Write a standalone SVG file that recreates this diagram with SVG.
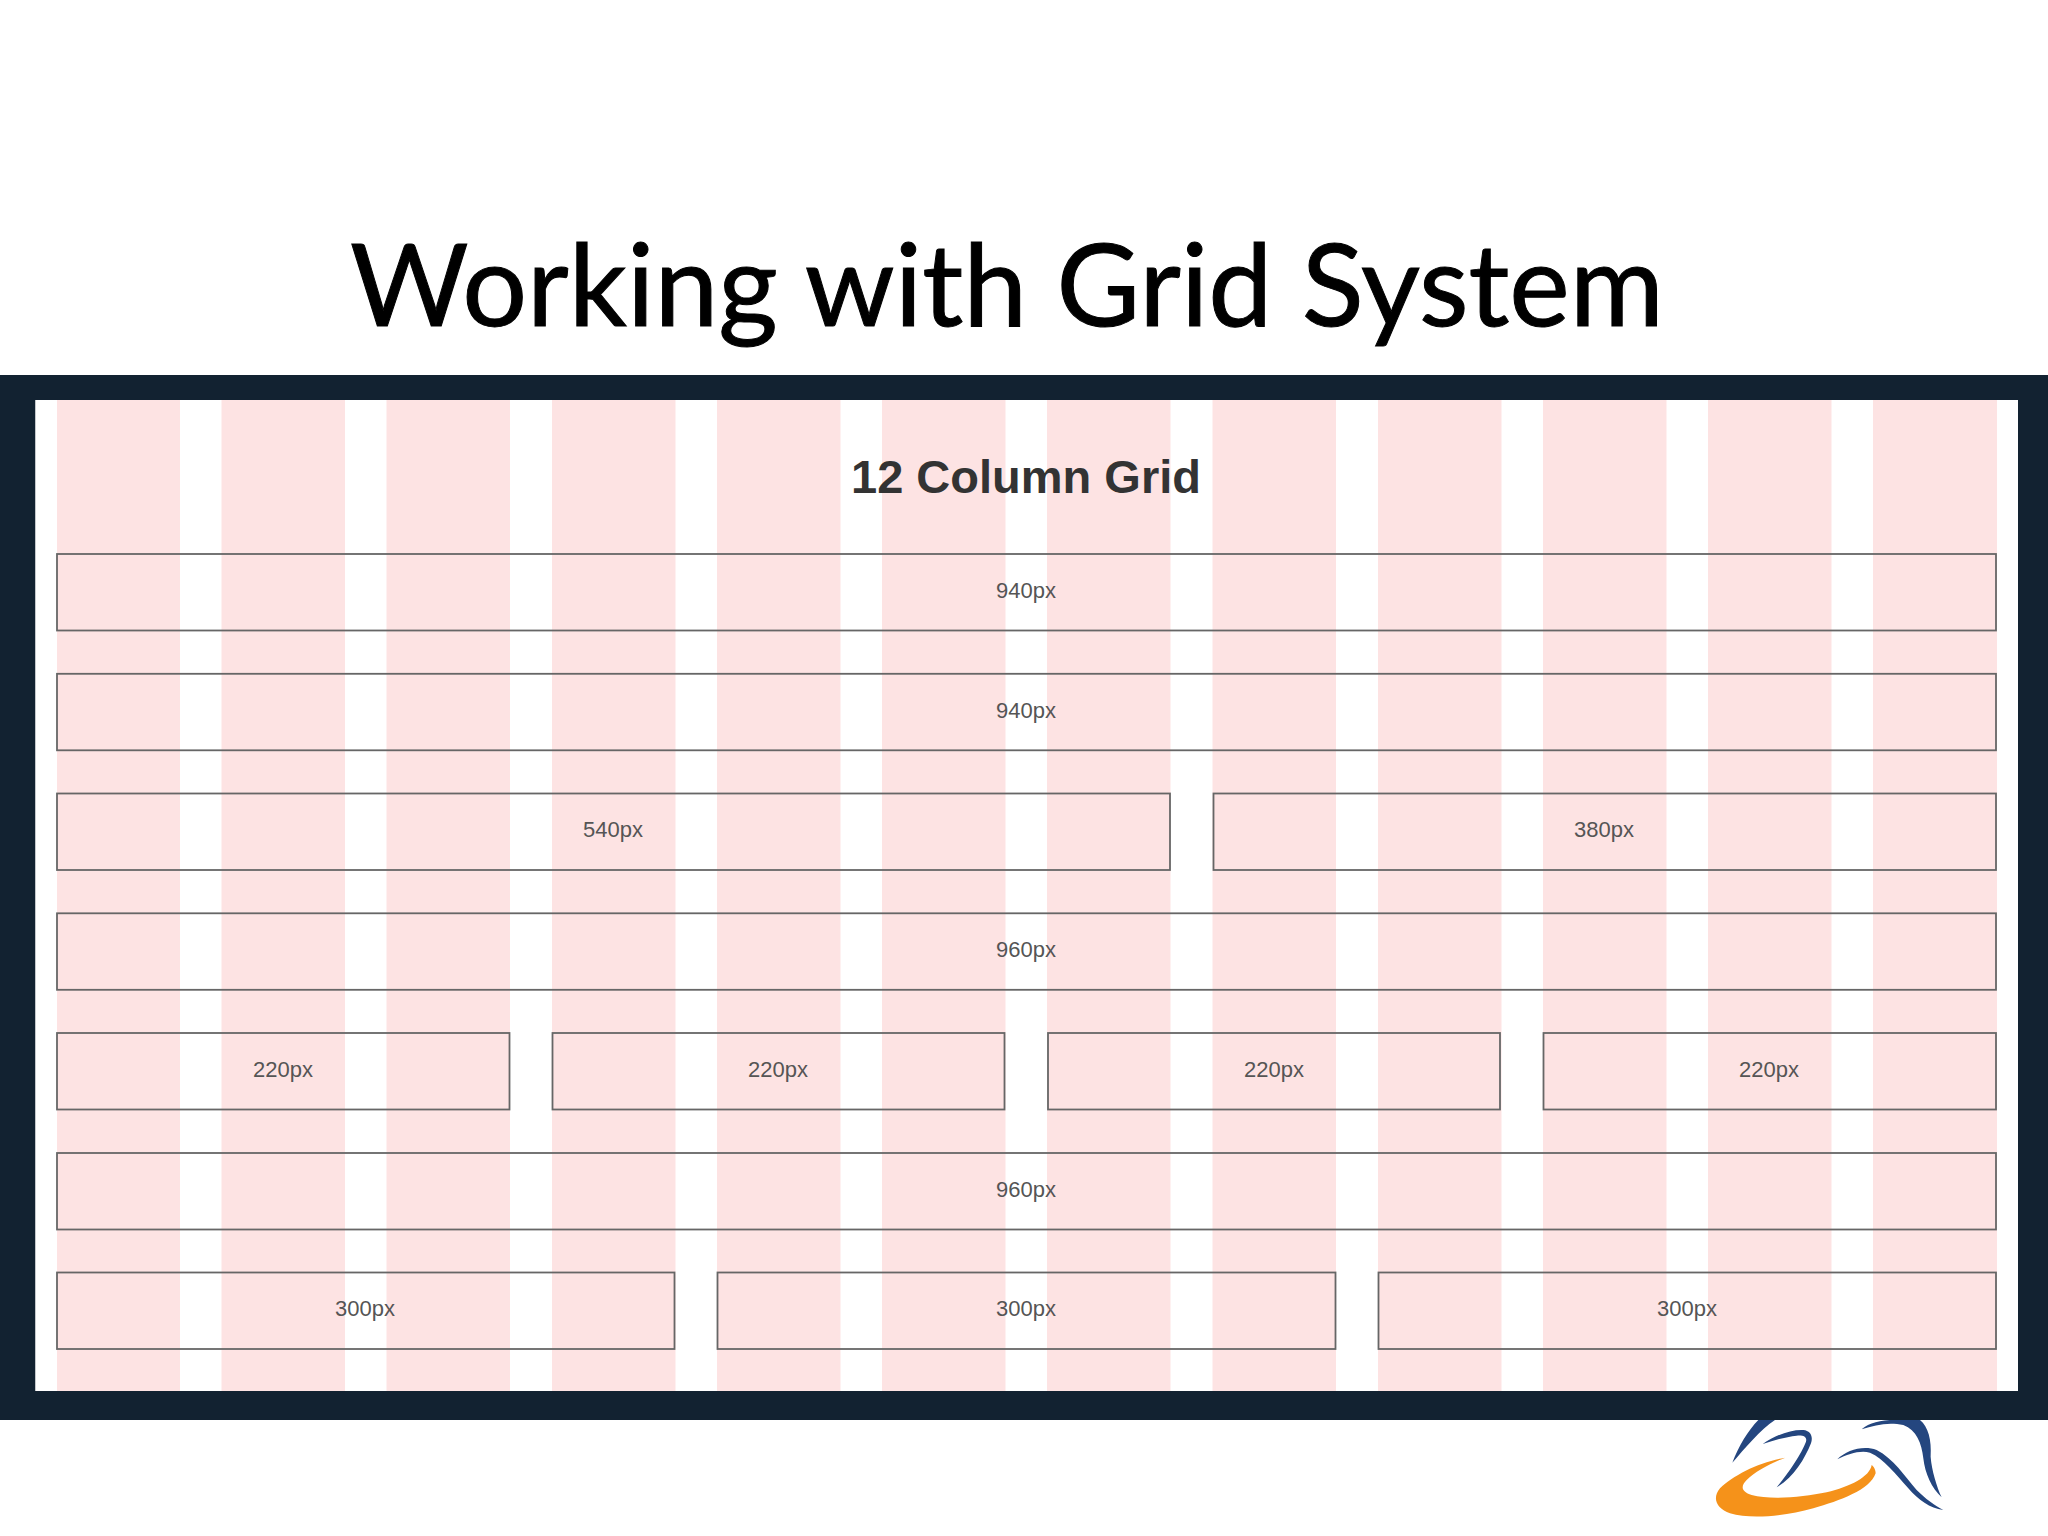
<svg xmlns="http://www.w3.org/2000/svg" width="2048" height="1536" viewBox="0 0 2048 1536">
<style>
.col{fill:#fde3e3}
.box{fill:none;stroke:#666;stroke-width:1.8}
.lbl{font-family:"Liberation Sans",Arial,sans-serif;font-size:22px;fill:#555;text-anchor:middle}
.blue{fill:#24467f}
</style>
<rect width="2048" height="1536" fill="#fff"/>
<g id="logo" transform="translate(1680,1380) scale(0.3333)">
<path class="blue" d="M235 120L285 120C240 150 195 205 157 248C175 200 205 150 235 120Z"/>
<path class="blue" d="M248 192C285 165 335 148 370 150C392 152 400 170 393 190C375 235 340 295 290 322C325 280 365 220 378 185C382 170 370 165 350 167C320 170 285 180 248 192Z"/>
<path class="blue" d="M545 148C570 125 610 118 660 120L720 120C745 140 755 180 752 230C755 270 770 320 785 352C755 325 735 280 730 235C725 190 710 150 670 135C625 125 585 135 545 148Z"/>
<path class="blue" d="M472 238C500 210 550 195 590 210C640 235 675 290 710 330C735 355 765 378 790 390C750 385 715 360 685 325C650 285 610 235 570 218C540 210 505 222 472 238Z"/>
<path d="M316 233C240 245 160 285 120 325C95 355 110 385 150 400C210 418 310 410 400 385C480 362 570 330 587 280C587 268 580 258 575 255C570 290 510 320 440 337C370 352 270 360 215 345C185 335 180 320 200 300C225 275 270 250 316 233Z" fill="#f5921a"/>
</g>
<g id="frame">
<path d="M0 375H2048V1420H0ZM35.500 400V1391H2018V400Z" fill="#122231" fill-rule="evenodd"/>
<rect x="35.500" y="400" width="1982.500" height="991" fill="#fff"/>
</g>
<g id="columns">
<rect class="col" x="57" y="400" width="123" height="991"/>
<rect class="col" x="221.500" y="400" width="123.500" height="991"/>
<rect class="col" x="386.500" y="400" width="123.500" height="991"/>
<rect class="col" x="552" y="400" width="123.500" height="991"/>
<rect class="col" x="717" y="400" width="123.500" height="991"/>
<rect class="col" x="882" y="400" width="123.500" height="991"/>
<rect class="col" x="1047" y="400" width="123.500" height="991"/>
<rect class="col" x="1212.500" y="400" width="123.500" height="991"/>
<rect class="col" x="1378" y="400" width="123.500" height="991"/>
<rect class="col" x="1543" y="400" width="123.500" height="991"/>
<rect class="col" x="1708" y="400" width="123.500" height="991"/>
<rect class="col" x="1873" y="400" width="124" height="991"/>
</g>
<text id="title" x="1007" y="326" font-family="Lato,'Open Sans',sans-serif" font-size="114.500" fill="#000" stroke="#000" stroke-width="1" text-anchor="middle">Working with Grid System</text>
<text id="grid-title" x="1026" y="493" font-family="'Liberation Sans',Arial,sans-serif" font-size="47" font-weight="700" fill="#333" text-anchor="middle">12 Column Grid</text>
<g id="row1"><rect class="box" x="57" y="554" width="1939" height="76.500"/><text class="lbl" x="1026" y="598">940px</text></g>
<g id="row2"><rect class="box" x="57" y="673.800" width="1939" height="76.500"/><text class="lbl" x="1026" y="718">940px</text></g>
<g id="row3">
<rect class="box" x="57" y="793.500" width="1113" height="76.500"/><text class="lbl" x="613" y="837">540px</text>
<rect class="box" x="1213.500" y="793.500" width="782.500" height="76.500"/><text class="lbl" x="1604" y="837">380px</text></g>
<g id="row4"><rect class="box" x="57" y="913.300" width="1939" height="76.500"/><text class="lbl" x="1026" y="957">960px</text></g>
<g id="row5">
<rect class="box" x="57" y="1033" width="452.500" height="76.500"/><text class="lbl" x="283" y="1077">220px</text>
<rect class="box" x="552.500" y="1033" width="452" height="76.500"/><text class="lbl" x="778" y="1077">220px</text>
<rect class="box" x="1048" y="1033" width="452" height="76.500"/><text class="lbl" x="1274" y="1077">220px</text>
<rect class="box" x="1543.500" y="1033" width="452.500" height="76.500"/><text class="lbl" x="1769" y="1077">220px</text></g>
<g id="row6"><rect class="box" x="57" y="1153" width="1939" height="76.500"/><text class="lbl" x="1026" y="1197">960px</text></g>
<g id="row7">
<rect class="box" x="57" y="1272.500" width="617.500" height="76.500"/><text class="lbl" x="365" y="1316">300px</text>
<rect class="box" x="717.500" y="1272.500" width="618" height="76.500"/><text class="lbl" x="1026" y="1316">300px</text>
<rect class="box" x="1378.500" y="1272.500" width="617.500" height="76.500"/><text class="lbl" x="1687" y="1316">300px</text></g>
</svg>
